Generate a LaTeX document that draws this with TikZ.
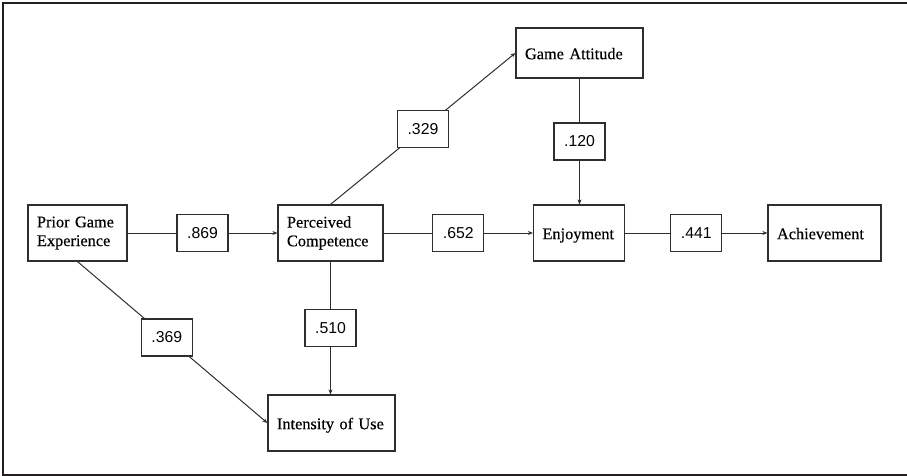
\documentclass[tikz,border=0pt]{standalone}
\usepackage{fontspec}
\setmainfont{Liberation Serif}[UprightFeatures={FakeBold=0.35}]
\newfontfamily\numfont{Liberation Sans}
\usetikzlibrary{arrows.meta}
\definecolor{linec}{HTML}{2E2E2E}
\definecolor{framec}{HTML}{231F20}
\tikzset{
  var/.style={draw=linec, line width=1.2pt, align=left, inner xsep=9pt, inner ysep=0pt,
    minimum height=56pt, font=\fontsize{16.3}{18.7}\selectfont, text=black},
  one/.style={text height=12.4pt, text depth=0pt},
  coef/.style={draw=linec, line width=1.2pt, fill=white, inner sep=0pt,
    minimum width=51pt, minimum height=37pt, font=\numfont\fontsize{15.8}{18}\selectfont, text=black},
  conn/.style={draw=linec, line width=1pt},
  arr/.style={conn, -{Stealth[length=5pt,width=4pt]}},
}
\begin{document}
\begin{tikzpicture}[x=1pt,y=-1pt]
\useasboundingbox (0,0) rectangle (907,476);
\draw[framec, line width=2pt] (907,3) -- (3,3) -- (3,474.5) -- (907,474.5);

\node[var, text width=81pt] (pge) at (77.5,233) {Prior Game\\Experience};
\node[var, text width=87pt] (pc) at (330.5,233) {Perceived\\Competence};
\node[var, one, text width=73pt] (enj) at (579,233) {Enjoyment};
\node[var, one, text width=95pt] (ach) at (824.5,233) {Achievement};
\node[var, one, text width=109pt, minimum height=50pt] (ga) at (579.5,53) {Game Attitude};
\node[var, one, text width=109pt] (iou) at (331.5,423) {Intensity of Use};

\draw[arr] (pge.east) -- node[coef] {.869} (pc.west);
\draw[arr] (pc.east) -- node[coef] {.652} (enj.west);
\draw[arr] (enj.east) -- node[coef] {.441} (ach.west);
\draw[arr] (pc.north) -- node[coef] {.329} (ga.west);
\draw[arr] (ga.south) -- node[coef] {.120} (ga.south |- enj.north);
\draw[arr] (pc.south) -- node[coef] {.510} (pc.south |- iou.north);
\draw[arr] (pge.south) -- node[coef, pos=0.47] {.369} (iou.west);
\end{tikzpicture}
\end{document}
